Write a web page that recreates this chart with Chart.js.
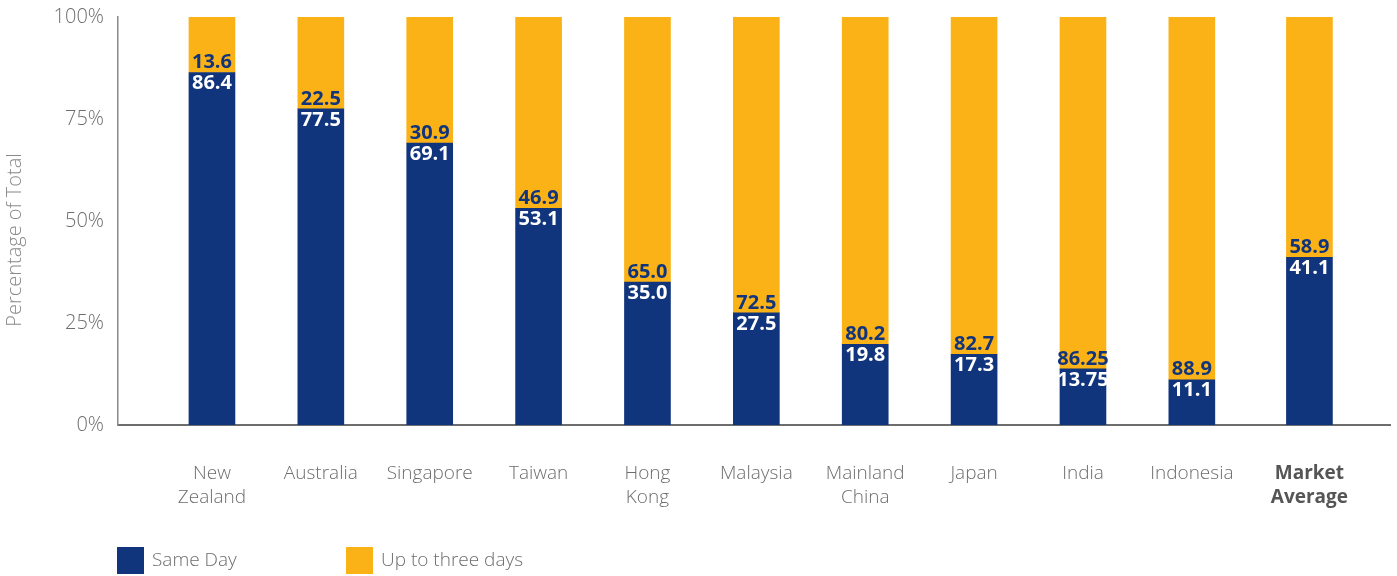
<!DOCTYPE html>
<html>
<head>
<meta charset="utf-8">
<script src="https://cdn.jsdelivr.net/npm/chart.js@4/dist/chart.umd.min.js"></script>
<style>
  html, body { margin: 0; padding: 0; background: #fff; }
  #wrap { width: 1397px; height: 576px; position: relative; }
</style>
</head>
<body>
<div id="wrap"><canvas id="myChart" width="1397" height="576"></canvas></div>
<script>
// Data
var categories = [['New', 'Zealand'], 'Australia', 'Singapore', 'Taiwan', ['Hong', 'Kong'], 'Malaysia',
    ['Mainland', 'China'], 'Japan', 'India', 'Indonesia', ['Market', 'Average']];
// slot of each category on the x axis (the average sits a bit apart)
var slots = [0, 1, 2, 3, 4, 5, 6, 7, 8, 9, 10.08];
var sameDay = [86.4, 77.5, 69.1, 53.1, 35.0, 27.5, 19.8, 17.3, 13.75, 11.1, 41.1];
var upToThree = [13.6, 22.5, 30.9, 46.9, 65.0, 72.5, 80.2, 82.7, 86.25, 88.9, 58.9];
var sameDayText = ['86.4', '77.5', '69.1', '53.1', '35.0', '27.5', '19.8', '17.3', '13.75', '11.1', '41.1'];
var upToThreeText = ['13.6', '22.5', '30.9', '46.9', '65.0', '72.5', '80.2', '82.7', '86.25', '88.9', '58.9'];
var yTicks = [0, 25, 50, 75, 100];
var seriesNames = ['Same Day', 'Up to three days'];
var yTitle = 'Percentage of Total';

var BLUE = '#11357c';
var ORANGE = '#fbb217';
var FONT = "'Open Sans', 'DejaVu Sans', sans-serif";

//value labels on the bars
var barLabels = {
    id: 'barLabels',
    afterDatasetsDraw: function (chart) {
        var ctx = chart.ctx;
        ctx.save();
        ctx.font = 'bold 20px ' + FONT;
        ctx.textAlign = 'center';
        ctx.textBaseline = 'middle';
        chart.getDatasetMeta(0).data.forEach(function (bar, i) {
            ctx.fillStyle = '#ffffff';
            ctx.fillText(sameDayText[i], bar.x, bar.y + 11);
        });
        chart.getDatasetMeta(1).data.forEach(function (bar, i) {
            ctx.fillStyle = BLUE;
            ctx.fillText(upToThreeText[i], bar.x, bar.base - 10);
        });
        ctx.restore();
    }
};

//legend at the bottom left + y axis title
var extras = {
    id: 'extras',
    afterDraw: function (chart) {
        var ctx = chart.ctx;
        var xs = [117, 346];
        ctx.save();
        ctx.font = '300 19px ' + FONT;
        ctx.textBaseline = 'middle';
        ctx.textAlign = 'left';
        chart.data.datasets.forEach(function (ds, i) {
            ctx.fillStyle = ds.backgroundColor;
            ctx.fillRect(xs[i], 547, 27, 27);
            ctx.fillStyle = '#6d6d6d';
            ctx.fillText(ds.label, xs[i] + 35, 561);
        });
        // rotated axis title
        ctx.translate(15, 240);
        ctx.rotate(-Math.PI / 2);
        ctx.textAlign = 'center';
        ctx.fillStyle = '#8a8a8a';
        ctx.font = '300 20px ' + FONT;
        ctx.fillText(yTitle, 0, 0);
        ctx.restore();
    }
};

var ctx = document.getElementById('myChart');
var myChart = new Chart(ctx, {
    type: 'bar',
    data: {
        datasets: [{
            label: seriesNames[0],
            data: sameDay.map(function (v, i) { return {x: slots[i], y: v}; }),
            backgroundColor: BLUE,
            barThickness: 46
        }, {
            label: seriesNames[1],
            data: upToThree.map(function (v, i) { return {x: slots[i], y: v}; }),
            backgroundColor: ORANGE,
            barThickness: 46
        }]
    },
    options: {
        responsive: false,
        animation: false,
        layout: { padding: { top: 17, right: 7, left: 0, bottom: 0 } },
        plugins: {
            legend: { display: false },
            tooltip: { enabled: false }
        },
        scales: {
            x: {
                type: 'linear',
                stacked: true,
                offset: false,
                min: -0.863,
                max: 10.82,
                afterBuildTicks: function (scale) {
                    scale.ticks = slots.map(function (s) { return {value: s}; });
                },
                afterFit: function (scale) {
                    scale.height = 151;
                    scale.paddingLeft = 0;
                    scale.paddingRight = 0;
                },
                grid: { display: false, drawTicks: false },
                border: { display: true, color: '#6d6d6d', width: 2 },
                ticks: {
                    padding: 36,
                    color: function (c) { return c.index === 10 ? '#555555' : '#6d6d6d'; },
                    font: function (c) {
                        return c.index === 10
                            ? {family: FONT, size: 19, weight: 'bold', lineHeight: 1.3}
                            : {family: FONT, size: 19, weight: '300', lineHeight: 1.3};
                    },
                    maxRotation: 0,
                    autoSkip: false,
                    callback: function (v, i) { return categories[i]; }
                }
            },
            y: {
                stacked: true,
                min: 0,
                max: 100,
                afterBuildTicks: function (scale) {
                    scale.ticks = yTicks.map(function (t) { return {value: t}; });
                },
                afterFit: function (scale) {
                    scale.width = 118;
                    scale.paddingTop = 0;
                    scale.paddingBottom = 0;
                },
                grid: { display: false, drawTicks: false },
                border: { display: true, color: '#8a8a8a', width: 1.5 },
                ticks: {
                    padding: 14,
                    color: '#6d6d6d',
                    font: { family: FONT, size: 20, weight: '300' },
                    callback: function (v) { return v + '%'; }
                }
            }
        }
    },
    plugins: [barLabels, extras]
});
</script>
</body>
</html>
